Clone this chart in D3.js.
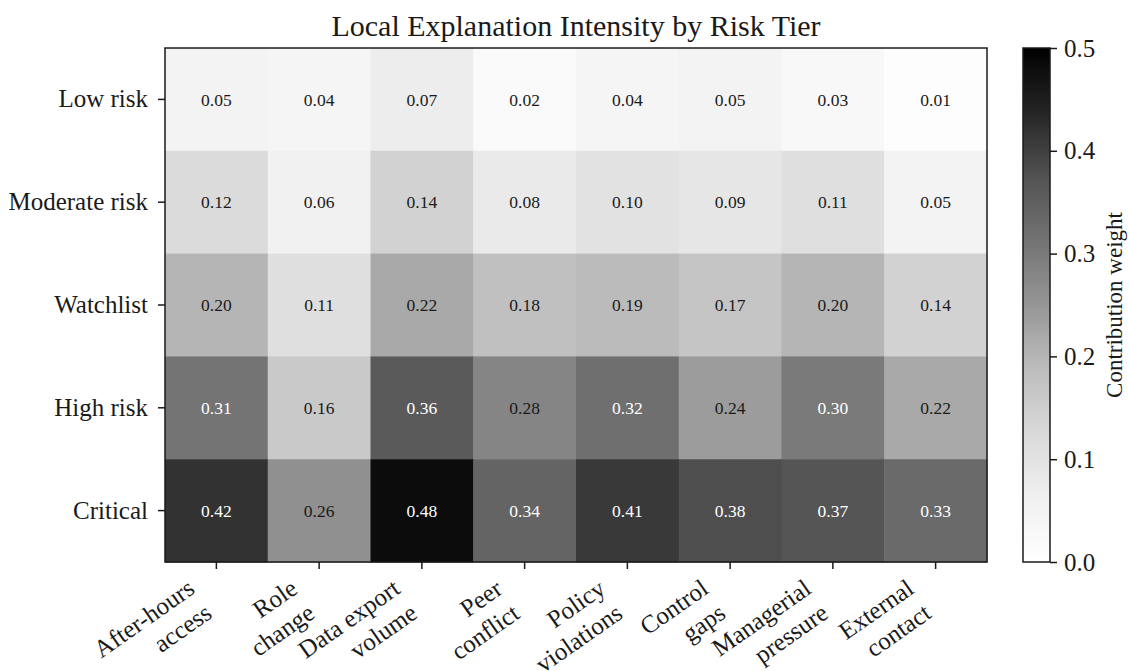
<!DOCTYPE html>
<html>
<head>
<meta charset="utf-8">
<script src="https://cdn.jsdelivr.net/npm/d3@7"></script>
<style>
  html, body { margin: 0; padding: 0; background: #ffffff; }
  svg { display: block; }
  text { font-family: "Liberation Serif", "Times New Roman", serif; }
</style>
</head>
<body>
<svg id="chart" width="1129" height="671"></svg>
<script>
// Risk tiers (rows) and explanatory factors (columns)
const tiers = ["Low risk", "Moderate risk", "Watchlist", "High risk", "Critical"];
const factors = [
  "After-hours\naccess", "Role\nchange", "Data export\nvolume", "Peer\nconflict",
  "Policy\nviolations", "Control\ngaps", "Managerial\npressure", "External\ncontact"
];

// Contribution weights per tier, one array per row
const lowRisk      = [0.05, 0.04, 0.07, 0.02, 0.04, 0.05, 0.03, 0.01];
const moderateRisk = [0.12, 0.06, 0.14, 0.08, 0.10, 0.09, 0.11, 0.05];
const watchlist    = [0.20, 0.11, 0.22, 0.18, 0.19, 0.17, 0.20, 0.14];
const highRisk     = [0.31, 0.16, 0.36, 0.28, 0.32, 0.24, 0.30, 0.22];
const critical     = [0.42, 0.26, 0.48, 0.34, 0.41, 0.38, 0.37, 0.33];
const weights = [lowRisk, moderateRisk, watchlist, highRisk, critical];

const colorbarTicks = [0.0, 0.1, 0.2, 0.3, 0.4, 0.5];
const vmin = 0, vmax = 0.5;

const titleText = "Local Explanation Intensity by Risk Tier";
const colorbarLabel = "Contribution weight";

// Layout
const plot = { left: 165, top: 48, right: 987, bottom: 562 };
const cbar = { left: 1023, right: 1050 };
const labelSize = 25;
const xLabelAngle = 35;

const svg = d3.select("#chart");

// Greys ramp, linearly interpolated between its nine anchors
const greys = ["#ffffff", "#f0f0f0", "#d9d9d9", "#bdbdbd", "#969696",
               "#737373", "#525252", "#252525", "#000000"];
const color = d3.scaleLinear()
  .domain(greys.map((_, i) => vmin + (vmax - vmin) * i / (greys.length - 1)))
  .range(greys)
  .interpolate(d3.interpolateRgb)
  .clamp(true);

const x = d3.scaleBand().domain(factors).range([plot.left, plot.right]).padding(0);
const y = d3.scaleBand().domain(tiers).range([plot.top, plot.bottom]).padding(0);

// Cells
const cells = [];
weights.forEach((row, i) => row.forEach((v, j) => cells.push({ tier: tiers[i], factor: factors[j], v })));

svg.append("g").selectAll("rect")
  .data(cells)
  .join("rect")
  .attr("x", d => x(d.factor))
  .attr("y", d => y(d.tier))
  .attr("width", x.bandwidth() + 0.5)
  .attr("height", y.bandwidth() + 0.5)
  .attr("fill", d => color(d.v));

// Value annotations
svg.append("g").selectAll("text")
  .data(cells)
  .join("text")
  .attr("x", d => x(d.factor) + x.bandwidth() / 2)
  .attr("y", d => y(d.tier) + y.bandwidth() / 2)
  .attr("text-anchor", "middle")
  .attr("dy", "0.35em")
  .attr("font-size", 17.5)
  .attr("fill", d => d.v >= 0.295 ? "#ffffff" : "#1a1a1a")
  .text(d => d.v.toFixed(2));

// Frame
svg.append("rect")
  .attr("x", plot.left).attr("y", plot.top)
  .attr("width", plot.right - plot.left).attr("height", plot.bottom - plot.top)
  .attr("fill", "none").attr("stroke", "#1a1a1a").attr("stroke-width", 1.5);

// Y axis
const yAxis = svg.append("g")
  .attr("transform", `translate(${plot.left},0)`)
  .call(d3.axisLeft(y).tickSize(7).tickPadding(10));
yAxis.select(".domain").remove();
yAxis.selectAll(".tick line").attr("stroke", "#1a1a1a").attr("stroke-width", 1.5);
yAxis.selectAll(".tick text")
  .attr("font-size", labelSize)
  .attr("font-family", "'Liberation Serif', 'Times New Roman', serif")
  .attr("fill", "#1a1a1a");

// X axis ticks
const xAxis = svg.append("g")
  .attr("transform", `translate(0,${plot.bottom})`)
  .call(d3.axisBottom(x).tickSize(7).tickFormat(""));
xAxis.select(".domain").remove();
xAxis.selectAll(".tick line").attr("stroke", "#1a1a1a").attr("stroke-width", 1.5);

// X tick labels: two lines, right-aligned, rotated,
// with the top-right corner of the rotated block at the tick
const labelTop = plot.bottom + 7 + 5;
const lineH = labelSize * 1.2;
const ang = -xLabelAngle * Math.PI / 180;
const xl = svg.append("g");
factors.forEach(f => {
  const g = xl.append("g");
  const t = g.append("text")
    .attr("font-size", labelSize)
    .attr("fill", "#1a1a1a")
    .attr("text-anchor", "end");
  f.split("\n").forEach((line, k) => {
    t.append("tspan").attr("x", 0).attr("y", k * lineH).text(line);
  });
  const bb = t.node().getBBox();
  const corners = [
    [bb.x, bb.y], [bb.x + bb.width, bb.y],
    [bb.x, bb.y + bb.height], [bb.x + bb.width, bb.y + bb.height]
  ].map(([px, py]) => [px * Math.cos(ang) - py * Math.sin(ang), px * Math.sin(ang) + py * Math.cos(ang)]);
  const maxX = d3.max(corners, c => c[0]);
  const minY = d3.min(corners, c => c[1]);
  const cx = x(f) + x.bandwidth() / 2;
  g.attr("transform", `translate(${cx - maxX},${labelTop - minY}) rotate(${-xLabelAngle})`);
});

// Title
svg.append("text")
  .attr("x", (plot.left + plot.right) / 2)
  .attr("y", 36)
  .attr("text-anchor", "middle")
  .attr("font-size", 30)
  .attr("fill", "#1a1a1a")
  .text(titleText);

// Colorbar
const cScale = d3.scaleLinear().domain([vmin, vmax]).range([plot.bottom, plot.top]);
const defs = svg.append("defs");
const grad = defs.append("linearGradient")
  .attr("id", "cbar-grad")
  .attr("x1", 0).attr("y1", 1).attr("x2", 0).attr("y2", 0);
d3.range(0, 1.0001, 0.02).forEach(s => {
  grad.append("stop")
    .attr("offset", s)
    .attr("stop-color", color(vmin + s * (vmax - vmin)));
});
svg.append("rect")
  .attr("x", cbar.left).attr("y", plot.top)
  .attr("width", cbar.right - cbar.left).attr("height", plot.bottom - plot.top)
  .attr("fill", "url(#cbar-grad)")
  .attr("stroke", "#1a1a1a").attr("stroke-width", 1.5);

const cAxis = svg.append("g")
  .attr("transform", `translate(${cbar.right},0)`)
  .call(d3.axisRight(cScale).tickValues(colorbarTicks).tickFormat(d3.format(".1f")).tickSize(7).tickPadding(7));
cAxis.select(".domain").remove();
cAxis.selectAll(".tick line").attr("stroke", "#1a1a1a").attr("stroke-width", 1.5);
cAxis.selectAll(".tick text")
  .attr("font-size", labelSize)
  .attr("font-family", "'Liberation Serif', 'Times New Roman', serif")
  .attr("fill", "#1a1a1a");

svg.append("text")
  .attr("transform", `translate(1122,${(plot.top + plot.bottom) / 2}) rotate(-90)`)
  .attr("text-anchor", "middle")
  .attr("font-size", 23)
  .attr("fill", "#1a1a1a")
  .text(colorbarLabel);
</script>
</body>
</html>
